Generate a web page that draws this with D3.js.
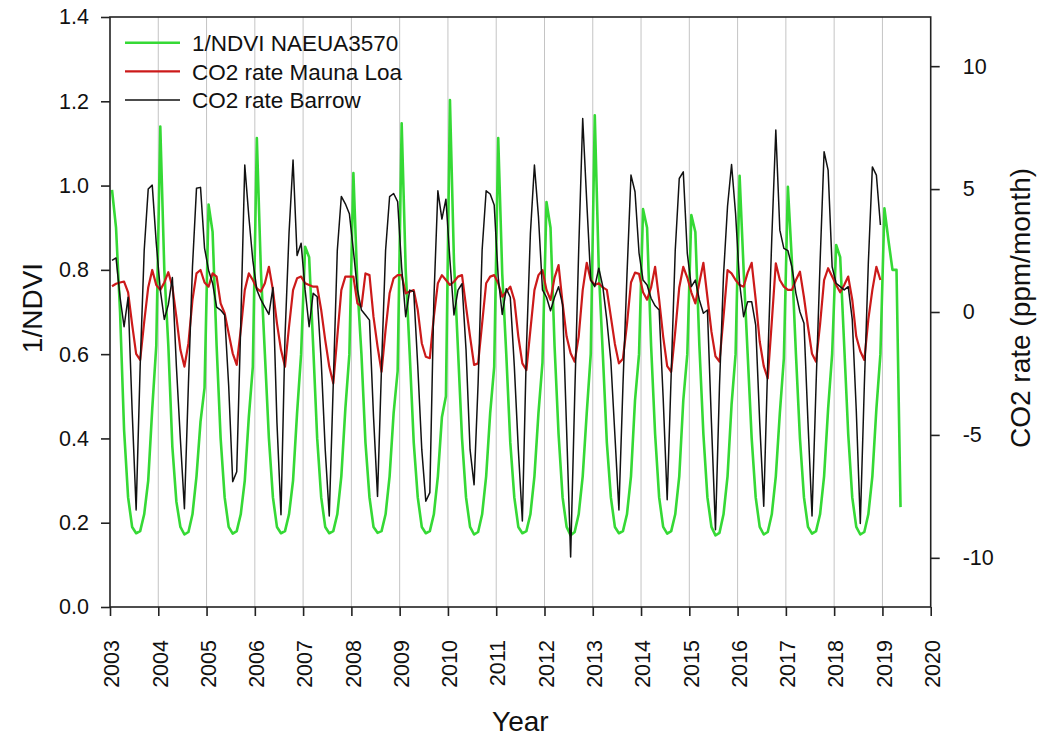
<!DOCTYPE html>
<html>
<head>
<meta charset="utf-8">
<script src="https://cdn.jsdelivr.net/npm/d3@7"></script>
<style>
  html, body { margin: 0; padding: 0; background: #fff; }
  svg { display: block; font-family: Arial, "Liberation Sans", sans-serif; }
</style>
</head>
<body>
<svg id="chart" width="1037" height="744"></svg>
<script>
// Monthly series, January 2003 onward (one value per month)
const ndvi = [
  0.99, 0.90, 0.70, 0.42, 0.26, 0.19, 0.175, 0.18, 0.22, 0.30, 0.47, 0.62,   // 2003
  1.14, 0.80, 0.62, 0.38, 0.25, 0.19, 0.172, 0.178, 0.22, 0.31, 0.44, 0.52,  // 2004
  0.955, 0.89, 0.62, 0.40, 0.26, 0.19, 0.174, 0.18, 0.22, 0.30, 0.45, 0.57,  // 2005
  1.113, 0.80, 0.60, 0.40, 0.26, 0.19, 0.175, 0.18, 0.22, 0.30, 0.46, 0.60,  // 2006
  0.855, 0.83, 0.62, 0.40, 0.26, 0.19, 0.175, 0.18, 0.22, 0.31, 0.47, 0.60,  // 2007
  1.03, 0.76, 0.60, 0.39, 0.26, 0.19, 0.176, 0.18, 0.22, 0.31, 0.46, 0.56,   // 2008
  1.148, 0.80, 0.60, 0.39, 0.26, 0.19, 0.175, 0.18, 0.22, 0.31, 0.45, 0.50,  // 2009
  1.203, 0.82, 0.61, 0.40, 0.26, 0.19, 0.172, 0.178, 0.22, 0.31, 0.46, 0.57, // 2010
  1.113, 0.79, 0.60, 0.39, 0.26, 0.19, 0.175, 0.18, 0.22, 0.31, 0.46, 0.58,  // 2011
  0.961, 0.90, 0.62, 0.41, 0.26, 0.19, 0.170, 0.178, 0.22, 0.31, 0.46, 0.60, // 2012
  1.167, 0.80, 0.60, 0.39, 0.26, 0.19, 0.175, 0.18, 0.22, 0.31, 0.49, 0.60,  // 2013
  0.944, 0.90, 0.62, 0.41, 0.26, 0.19, 0.174, 0.18, 0.22, 0.31, 0.49, 0.60,  // 2014
  0.93, 0.89, 0.62, 0.41, 0.26, 0.19, 0.170, 0.176, 0.22, 0.31, 0.48, 0.60,  // 2015
  1.023, 0.80, 0.60, 0.40, 0.26, 0.19, 0.172, 0.178, 0.22, 0.31, 0.46, 0.59, // 2016
  0.997, 0.82, 0.60, 0.40, 0.26, 0.19, 0.174, 0.18, 0.22, 0.31, 0.47, 0.60,  // 2017
  0.859, 0.83, 0.62, 0.41, 0.26, 0.19, 0.172, 0.178, 0.22, 0.31, 0.47, 0.60, // 2018
  0.946, 0.87, 0.80, 0.80, 0.237                                             // 2019
];

const co2MaunaLoa = [
  1.05, 1.15, 1.20, 1.24, 0.80, -0.50, -1.70, -1.95, -0.40, 1.00, 1.71, 1.10, // 2003
  0.90, 1.20, 1.62, 1.03, -0.20, -1.54, -2.22, -1.27, 0.49, 1.57, 1.71, 1.20, // 2004
  1.03, 1.57, 1.44, 0.35, -0.05, -0.87, -1.68, -2.15, -0.73, 0.89, 1.57, 1.30, // 2005
  0.96, 0.83, 1.17, 1.84, 0.89, -0.46, -1.54, -2.22, -0.60, 0.89, 1.37, 1.44, // 2006
  1.17, 1.10, 1.03, 1.03, 0.08, -1.14, -2.22, -2.90, -1.00, 0.89, 1.44, 1.44, // 2007
  1.44, 0.35, 0.22, 1.57, 1.50, -0.20, -1.40, -2.43, -0.73, 0.76, 1.37, 1.50, // 2008
  1.50, 0.76, 0.83, 0.89, 0.08, -1.27, -1.82, -1.88, -0.19, 1.17, 1.50, 1.30, // 2009
  1.10, 1.23, 1.44, 1.50, 0.22, -1.00, -2.15, -2.09, -0.46, 1.17, 1.44, 1.50, // 2010
  1.17, 0.62, 0.83, 1.03, 0.49, -1.00, -2.09, -2.36, -0.73, 0.89, 1.50, 1.70, // 2011
  0.90, 0.49, 1.40, 1.91, 0.35, -1.00, -1.68, -2.02, -1.00, 0.89, 2.00, 1.30, // 2012
  1.10, 1.17, 1.00, 0.90, -0.20, -1.30, -2.09, -1.90, -0.50, 1.20, 1.60, 1.55, // 2013
  0.80, 0.50, 1.00, 1.84, 0.50, -1.00, -2.20, -2.43, -0.80, 1.00, 1.84, 1.40, // 2014
  0.80, 0.35, 1.20, 2.00, 0.60, -0.80, -1.80, -2.02, -0.20, 1.70, 1.57, 1.30, // 2015
  1.10, 1.03, 1.60, 2.00, 0.50, -1.20, -2.20, -2.70, -0.40, 1.98, 1.30, 1.03, // 2016
  0.90, 0.90, 1.30, 1.64, 0.60, -0.60, -1.70, -2.02, -0.50, 1.30, 1.78, 1.44, // 2017
  1.10, 0.80, 1.10, 1.44, 0.50, -1.00, -1.60, -1.95, -0.30, 0.90, 1.84, 1.30  // 2018
];

const co2Barrow = [
  2.10, 2.20, 0.60, -0.60, 0.60, -4.00, -8.05, -2.20, 2.50, 5.00, 5.16, 2.80,  // 2003
  0.90, -0.30, 0.30, 1.40, -2.20, -5.20, -8.00, -2.90, 1.84, 5.03, 5.07, 2.60, // 2004
  1.70, 1.17, 0.20, 0.08, -0.12, -3.00, -6.90, -6.50, -0.50, 5.98, 3.90, 2.10, // 2005
  0.90, 0.50, 0.20, -0.10, 1.00, -4.50, -8.25, -1.00, 3.20, 6.18, 2.30, 2.80, // 2006
  0.90, -0.60, 0.76, 0.62, -2.00, -5.60, -8.30, -2.90, 2.50, 4.70, 4.40, 4.00, // 2007
  2.50, 0.90, 0.08, -0.12, -0.33, -4.25, -7.50, -2.20, 2.50, 4.69, 4.82, 4.49, // 2008
  1.80, -0.19, 0.89, 0.83, -2.20, -5.60, -7.70, -7.35, 0.49, 4.93, 3.78, 4.59, // 2009
  2.10, -0.12, 0.89, 1.15, -1.54, -5.60, -7.03, -2.90, 2.52, 4.93, 4.80, 4.35, // 2010
  1.40, -0.10, 0.95, 0.60, -2.20, -5.60, -8.50, -1.54, 3.20, 5.98, 3.88, 0.90, // 2011
  0.60, 0.05, 0.60, 1.03, 0.30, -4.80, -9.97, -3.50, 2.50, 7.87, 4.50, 1.30, // 2012
  1.03, 1.78, 1.03, -0.33, -2.00, -5.00, -8.05, -3.00, 1.50, 5.57, 4.89, 2.40, // 2013
  1.30, 1.10, 0.56, 0.25, 0.08, -3.50, -7.64, -2.50, 2.50, 5.43, 5.70, 2.38,  // 2014
  1.03, 1.30, 0.49, -0.05, 0.08, -4.50, -8.86, -3.00, 1.50, 4.30, 6.00, 4.00, // 2015
  1.17, -0.19, 0.42, 0.42, -0.53, -4.50, -7.90, -2.00, 3.00, 7.40, 3.33, 2.59, // 2016
  2.50, 1.84, 0.76, 0.00, -0.46, -4.50, -8.30, -3.00, 2.00, 6.52, 5.77, 1.84, // 2017
  1.17, 1.03, 0.90, 1.03, -0.30, -4.00, -8.60, -3.00, 2.00, 5.90, 5.57, 3.54  // 2018
];

const yearTicks = d3.range(2003, 2021);
const ndviTicks = [0.0, 0.2, 0.4, 0.6, 0.8, 1.0, 1.2, 1.4];
const rateTicks = [-10, -5, 0, 5, 10];
const legendLabels = ["1/NDVI NAEUA3570", "CO2 rate Mauna Loa", "CO2 rate Barrow"];
const seriesColors = ["#35d935", "#cc1a1a", "#111111"];
const seriesWidths = [2.6, 2.2, 1.5];

// Decimal-year position of a monthly value (middle of the month)
const monthTime = i => 2003 + (i + 0.5) / 12;

const svg = d3.select("#chart");
const plot = { left: 110, right: 930.7, top: 17, bottom: 607 };

const x = d3.scaleLinear().domain([2003, 2020]).range([plot.left, plot.right]);
const yL = d3.scaleLinear().domain([0, 1.4]).range([plot.bottom, plot.top]);
const yR = d3.scaleLinear().domain([-12, 12]).range([plot.bottom, plot.top]);

const fontFamily = "Arial, 'Liberation Sans', sans-serif";
const tickFont = "21.5px";
const titleFont = "28px";

// Vertical year grid
svg.append("g")
  .selectAll("line")
  .data(yearTicks.filter(d => d > 2003 && d < 2020))
  .join("line")
  .attr("x1", d => x(d)).attr("x2", d => x(d))
  .attr("y1", plot.top).attr("y2", plot.bottom)
  .attr("stroke", "#c4c4c4")
  .attr("stroke-width", 1);

// Series lines
const lineL = d3.line().x((d, i) => x(monthTime(i))).y(d => yL(d));
const lineR = d3.line().x((d, i) => x(monthTime(i))).y(d => yR(d));

svg.append("clipPath").attr("id", "plotClip")
  .append("rect")
  .attr("x", plot.left).attr("y", plot.top)
  .attr("width", plot.right - plot.left).attr("height", plot.bottom - plot.top);

const lines = svg.append("g").attr("clip-path", "url(#plotClip)");
[[ndvi, lineL], [co2MaunaLoa, lineR], [co2Barrow, lineR]].forEach(([values, gen], i) => {
  lines.append("path").datum(values)
    .attr("d", gen).attr("fill", "none")
    .attr("stroke", seriesColors[i]).attr("stroke-width", seriesWidths[i])
    .attr("stroke-linejoin", "round");
});

// Frame
svg.append("rect")
  .attr("x", plot.left).attr("y", plot.top)
  .attr("width", plot.right - plot.left).attr("height", plot.bottom - plot.top)
  .attr("fill", "none").attr("stroke", "#222").attr("stroke-width", 1.6);

// Left axis
const axL = svg.append("g")
  .attr("transform", `translate(${plot.left},0)`)
  .call(d3.axisLeft(yL).tickValues(ndviTicks).tickFormat(d3.format(".1f"))
        .tickSize(9).tickPadding(12).tickSizeOuter(0));
axL.select(".domain").remove();
axL.selectAll("line").attr("stroke", "#222").attr("stroke-width", 1.6);
axL.selectAll("text").attr("font-size", tickFont).attr("fill", "#111")
  .attr("font-family", fontFamily);

// Right axis
const axR = svg.append("g")
  .attr("transform", `translate(${plot.right},0)`)
  .call(d3.axisRight(yR).tickValues(rateTicks).tickFormat(d3.format("d"))
        .tickSize(9).tickPadding(23).tickSizeOuter(0));
axR.select(".domain").remove();
axR.selectAll("line").attr("stroke", "#222").attr("stroke-width", 1.6);
axR.selectAll("text").attr("font-size", tickFont).attr("fill", "#111")
  .attr("font-family", fontFamily)
  .text(d => d < 0 ? "-" + Math.abs(d) : String(d));

// Bottom axis with vertical year labels
const axB = svg.append("g")
  .attr("transform", `translate(0,${plot.bottom})`)
  .call(d3.axisBottom(x).tickValues(yearTicks).tickFormat(d3.format("d"))
        .tickSize(9).tickSizeOuter(0));
axB.select(".domain").remove();
axB.selectAll("line").attr("stroke", "#222").attr("stroke-width", 1.6);
axB.selectAll("text")
  .attr("font-size", tickFont).attr("fill", "#111")
  .attr("font-family", fontFamily)
  .attr("text-anchor", "end")
  .attr("transform", "translate(1,33) rotate(-90)")
  .attr("x", 0).attr("y", 0).attr("dy", "0.36em");

// Axis titles
svg.append("text")
  .attr("transform", `translate(42,${(plot.top + plot.bottom) / 2 - 4}) rotate(-90)`)
  .attr("text-anchor", "middle")
  .attr("font-size", titleFont).attr("fill", "#111")
  .text("1/NDVI");

svg.append("text")
  .attr("transform", `translate(1030,${(plot.top + plot.bottom) / 2 - 4}) rotate(-90)`)
  .attr("text-anchor", "middle")
  .attr("font-size", titleFont).attr("fill", "#111")
  .text("CO2 rate (ppm/month)");

svg.append("text")
  .attr("x", (plot.left + plot.right) / 2).attr("y", 731)
  .attr("text-anchor", "middle")
  .attr("font-size", titleFont).attr("fill", "#111")
  .text("Year");

// Legend
const legend = svg.append("g");
legendLabels.forEach((label, i) => {
  const ly = 42.7 + i * 28.7;
  legend.append("line")
    .attr("x1", 125).attr("x2", 180).attr("y1", ly).attr("y2", ly)
    .attr("stroke", seriesColors[i])
    .attr("stroke-width", seriesWidths[i]);
  legend.append("text")
    .attr("x", 192).attr("y", ly).attr("dy", "0.36em")
    .attr("font-size", "22.5px").attr("fill", "#111")
    .text(label);
});
</script>
</body>
</html>
